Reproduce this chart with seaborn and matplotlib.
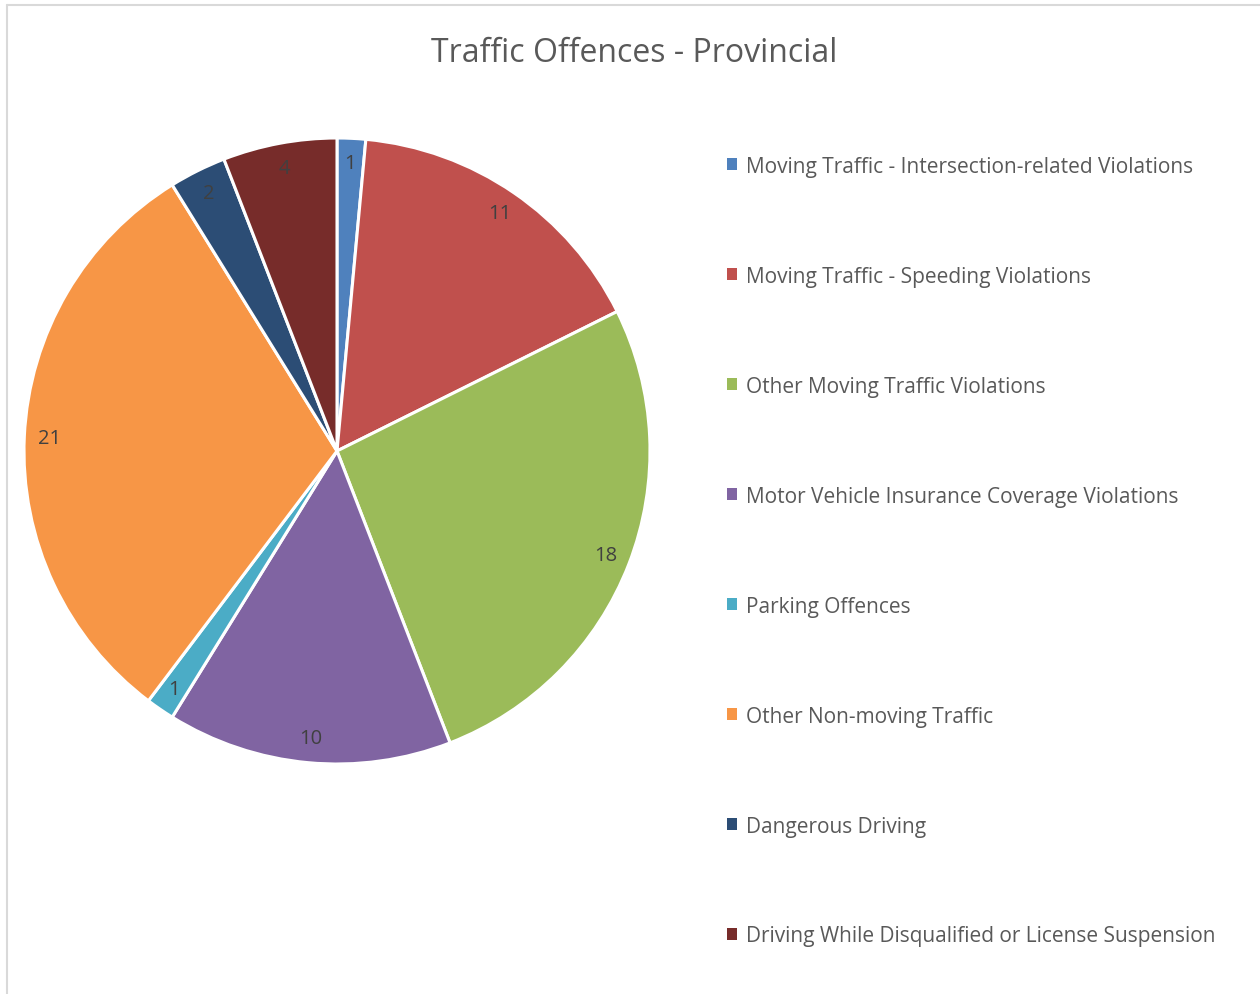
import matplotlib.pyplot as plt
from matplotlib.lines import Line2D
from matplotlib.patches import Patch
import seaborn as sns

categories = [
    "Moving Traffic - Intersection-related Violations",
    "Moving Traffic - Speeding Violations",
    "Other Moving Traffic Violations",
    "Motor Vehicle Insurance Coverage Violations",
    "Parking Offences",
    "Other Non-moving Traffic",
    "Dangerous Driving",
    "Driving While Disqualified or License Suspension",
]
counts = [1, 11, 18, 10, 1, 21, 2, 4]
colors = ["#4F81BD", "#C0504D", "#9BBB59", "#8064A2",
          "#4BACC6", "#F79646", "#2C4D75", "#772C2A"]

sns.set_style("white")
plt.rcParams['font.family'] = ['Open Sans', 'DejaVu Sans']

fig = plt.figure(figsize=(12.6, 9.95), dpi=100)

# chart frame (only top and left edges show)
fig.add_artist(Line2D([7 / 1260, 7 / 1260], [0, 1 - 6 / 995], transform=fig.transFigure,
                      color="#d9d9d9", lw=1.5))
fig.add_artist(Line2D([7 / 1260, 1], [1 - 6 / 995, 1 - 6 / 995], transform=fig.transFigure,
                      color="#d9d9d9", lw=1.5))

ax = fig.add_axes([24 / 1260, (995 - 452 - 313) / 995, 626 / 1260, 626 / 995])
wedges, texts = ax.pie(counts, colors=colors, startangle=90, counterclock=False,
                       labels=[str(c) for c in counts], labeldistance=0.92,
                       wedgeprops=dict(edgecolor="white", linewidth=2.2),
                       textprops=dict(color="#404040", fontsize=14.5))
for t in texts:
    t.set_horizontalalignment("center")
    t.set_verticalalignment("center")
ax.set_xlim(-1, 1)
ax.set_ylim(-1, 1)
ax.set_aspect("equal")

fig.text(634 / 1260, 1 - 53 / 995, "Traffic Offences - Provincial", ha="center", va="center",
         fontsize=23, color="#595959")

handles = [Patch(facecolor=c, edgecolor="none") for c in colors]
leg = fig.legend(handles, categories, loc="upper left", bbox_to_anchor=(708 / 1260, 1 - 138 / 995),
                 frameon=False, fontsize=15, handlelength=0.5, handleheight=0.5,
                 handletextpad=0.4, labelspacing=4.27, labelcolor="#595959")

fig.savefig("out.png", dpi=100)
